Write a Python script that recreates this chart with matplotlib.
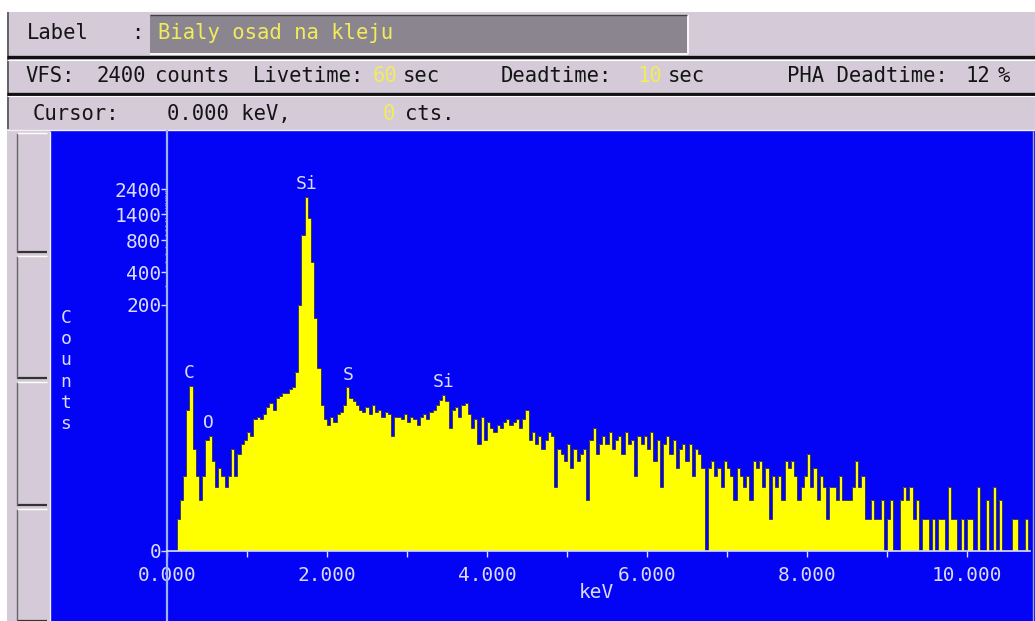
import numpy as np
import matplotlib
matplotlib.use('Agg')
import matplotlib.pyplot as plt
from matplotlib.patches import Rectangle

# ---------------- data ----------------
bin_width_kev = 0.04
counts = [
    # 0.00 - 1.00 keV
    0, 0, 0, 1, 2, 4, 20, 34, 8, 4, 2, 4, 10, 11, 6, 3, 5, 4, 3, 4, 8, 4, 7, 9, 10,
    # 1.00 - 2.00 keV
    12, 11, 16, 17, 16, 18, 21, 23, 20, 26, 27, 29, 29, 32, 33, 46, 200, 900, 2050, 1300, 500, 150, 50, 22, 16,
    # 2.00 - 3.00 keV
    14, 17, 15, 18, 19, 22, 33, 26, 24, 22, 20, 19, 21, 18, 22, 19, 20, 17, 19, 18, 11, 17, 17, 16, 18,
    # 3.00 - 4.00 keV
    15, 17, 16, 14, 17, 18, 16, 19, 20, 22, 25, 28, 24, 13, 20, 21, 17, 22, 23, 18, 13, 16, 9, 17, 10,
    # 4.00 - 5.00 keV
    15, 13, 12, 14, 13, 15, 16, 14, 15, 16, 13, 16, 20, 10, 12, 9, 11, 8, 10, 12, 11, 3, 8, 7, 6,
    # 5.00 - 6.00 keV
    9, 5, 8, 6, 7, 8, 2, 10, 13, 7, 9, 11, 9, 12, 8, 10, 11, 7, 12, 9, 10, 4, 11, 9, 11,
    # 6.00 - 7.00 keV
    8, 12, 6, 10, 3, 9, 11, 7, 10, 5, 8, 9, 6, 9, 4, 8, 7, 5, 0, 5, 6, 4, 5, 3, 6,
    # 7.00 - 8.00 keV
    5, 4, 2, 5, 4, 3, 4, 2, 6, 5, 6, 3, 5, 1, 4, 3, 4, 2, 6, 5, 6, 4, 2, 3, 4,
    # 8.00 - 9.00 keV
    7, 3, 5, 2, 4, 3, 1, 3, 3, 2, 4, 2, 2, 2, 3, 6, 3, 4, 1, 1, 2, 1, 1, 2, 0,
    # 9.00 - 10.80 keV
    1, 2, 0, 0, 2, 3, 2, 3, 1, 2, 0, 1, 1, 0, 1, 0, 1, 1, 0, 3, 1, 1, 0, 1, 0,
    1, 1, 0, 3, 0, 0, 2, 0, 3, 0, 2, 0, 0, 0, 1, 1, 0, 0, 1, 0,
]
peak_labels = ['C', 'O', 'Si', 'S', 'Si']
peak_energies = [0.28, 0.52, 1.74, 2.27, 3.46]
y_ticks = [0, 200, 400, 800, 1400, 2400]
y_minor = [300, 500, 600, 700, 900, 1000, 1100, 1200, 1300, 1500, 1600, 1700,
           1800, 1900, 2000, 2100, 2200, 2300]
x_ticks = [0, 2, 4, 6, 8, 10]
x_minor = [1, 3, 5, 7, 9]

sample_label = 'Bialy osad na kleju'
vfs_counts = '2400'
livetime = '60'
deadtime = '10'
pha_deadtime = '12'
cursor_kev = '0.000'
cursor_cts = '0'

# ---------------- style ----------------
W, H = 1035, 621
PANEL = '#d4cad8'
BOX = '#8b8590'
BLUE = '#0303f6'
LIGHT = '#d8dcfa'
CURSOR = '#9fb2ff'
YEL = '#ffff00'
TXT_Y = '#f2ec5a'
FONT = 'DejaVu Sans Mono'

fig = plt.figure(figsize=(W / 100, H / 100), dpi=100)
fig.patch.set_facecolor('white')
bg = fig.add_axes([0, 0, 1, 1])
bg.set_xlim(0, W)
bg.set_ylim(H, 0)
bg.axis('off')

def rect(x0, y0, x1, y1, color, z=1):
    bg.add_patch(Rectangle((x0, y0), x1 - x0, y1 - y0, facecolor=color,
                           edgecolor='none', zorder=z))

def hline(y, x0, x1, color, lw, z=3):
    bg.plot([x0, x1], [y, y], color=color, lw=lw, zorder=z, solid_capstyle='butt')

def vline(x, y0, y1, color, lw, z=3):
    bg.plot([x, x], [y0, y1], color=color, lw=lw, zorder=z, solid_capstyle='butt')

# panels
rect(7, 12, W, H, PANEL)
vline(8, 12, 129, '#505050', 1.2)
# row 1 box
rect(150, 15, 687, 53, BOX, 2)
hline(53.5, 150, 688, 'white', 1.2)
vline(688, 15, 54, 'white', 1.2)
hline(15, 150, 687, '#404040', 1.0)
# separators
hline(57, 7, W, '#111111', 2.4)
hline(93.5, 7, W, '#111111', 2.4)
hline(59.5, 7, W, 'white', 0.8)
hline(96, 7, W, 'white', 0.8)
hline(129.5, 7, W, '#f2eef4', 1.0)

# left buttons
for (y0, y1) in [(133, 252), (256, 378), (382, 505), (509, 621)]:
    rect(17, y0, 48, y1, PANEL, 2)
    hline(y1, 17, 47, '#333333', 1.6)
    vline(16.5, y0, y1, '#666666', 1.0)
    hline(y0, 17, 47, 'white', 1.0)
vline(49.5, 131, H, '#f0eef2', 1.0)

# blue plot area
rect(50, 131, W, H, BLUE, 2)
vline(1033, 131, H, '#9aa4e8', 1.0)

# header texts
fs = 14.8
def ht(x, y, s, color='#141414'):
    bg.text(x, y, s, fontsize=fs, family=FONT, color=color, ha='left',
            va='center', zorder=5)

ht(27, 33, 'Label')
ht(131, 33, ':')
ht(158, 33, sample_label, TXT_Y)
ht(25, 76, 'VFS:')
ht(97, 76, vfs_counts)
ht(155, 76, 'counts')
ht(253, 76, 'Livetime:')
ht(373, 76, livetime, TXT_Y)
ht(403, 76, 'sec')
ht(501, 76, 'Deadtime:')
ht(637, 76, deadtime, TXT_Y)
ht(668, 76, 'sec')
ht(787, 76, 'PHA Deadtime:')
ht(965, 76, pha_deadtime)
ht(998, 76, '%')
ht(33, 114, 'Cursor:')
ht(167, 114, cursor_kev + ' keV,')
ht(383, 114, cursor_cts, TXT_Y)
ht(405, 114, 'cts.')

# vertical "Counts" label
for i, ch in enumerate('Counts'):
    bg.text(66, 318 + 21.2 * i, ch, fontsize=13, family=FONT, color=LIGHT,
            ha='center', va='center', zorder=5)

# ---------------- spectrum axes ----------------
ax = fig.add_axes([167 / W, 0, (1030 - 167) / W, 490 / H])
ax.set_facecolor('none')

def fwd(c):
    return np.log10(1 + np.maximum(c, -0.999))

def inv(t):
    return 10 ** t - 1

ax.set_yscale('function', functions=(fwd, inv))
ax.set_xlim(0, (1030 - 167) / 80)
ax.set_ylim(inv(-70 / 107), inv(420 / 107))

edges = np.arange(len(counts) + 1) * bin_width_kev
ax.stairs(counts, edges, fill=True, color=YEL, baseline=0, zorder=2)
ax.stairs(counts, edges, fill=False, color='#3c3c52', linewidth=0.7,
          baseline=None, zorder=2.5)

# peak labels
for lab, e in zip(peak_labels, peak_energies):
    b = int(round(e / bin_width_kev))
    top = max(counts[max(b - 1, 0):b + 2])
    ax.annotate(lab, xy=(e, top), xytext=(0, 9), textcoords='offset points',
                ha='center', va='center', fontsize=13, family=FONT, color=LIGHT,
                zorder=5)

for s in ['top', 'right']:
    ax.spines[s].set_visible(False)
ax.spines['left'].set_color(CURSOR)
ax.spines['left'].set_linewidth(1.6)
ax.spines['bottom'].set_position(('data', 0))
ax.spines['bottom'].set_color(LIGHT)
ax.spines['bottom'].set_linewidth(1.2)
ax.spines['bottom'].set_zorder(3)

ax.set_yticks(y_ticks)
ax.set_yticklabels([str(v) for v in y_ticks])
ax.set_yticks(y_minor, minor=True)
ax.set_xticks(x_ticks)
ax.set_xticklabels(['%.3f' % v for v in x_ticks])
ax.set_xticks(x_minor, minor=True)
ax.tick_params(axis='y', which='major', direction='out', length=4, width=1,
               color=LIGHT, labelcolor=LIGHT, labelsize=14, pad=0)
ax.tick_params(axis='y', which='minor', direction='out', length=1.5, width=1,
               color=LIGHT)
ax.tick_params(axis='x', which='both', direction='out', length=4, width=1,
               color=LIGHT, labelcolor=LIGHT, labelsize=14, pad=7)
for lbl in ax.get_xticklabels() + ax.get_yticklabels():
    lbl.set_family(FONT)

ax.text(596, 592, 'keV', transform=bg.transData, fontsize=14, family=FONT,
        color=LIGHT, ha='center', va='center')

fig.savefig('out.png', dpi=100, facecolor='white')
